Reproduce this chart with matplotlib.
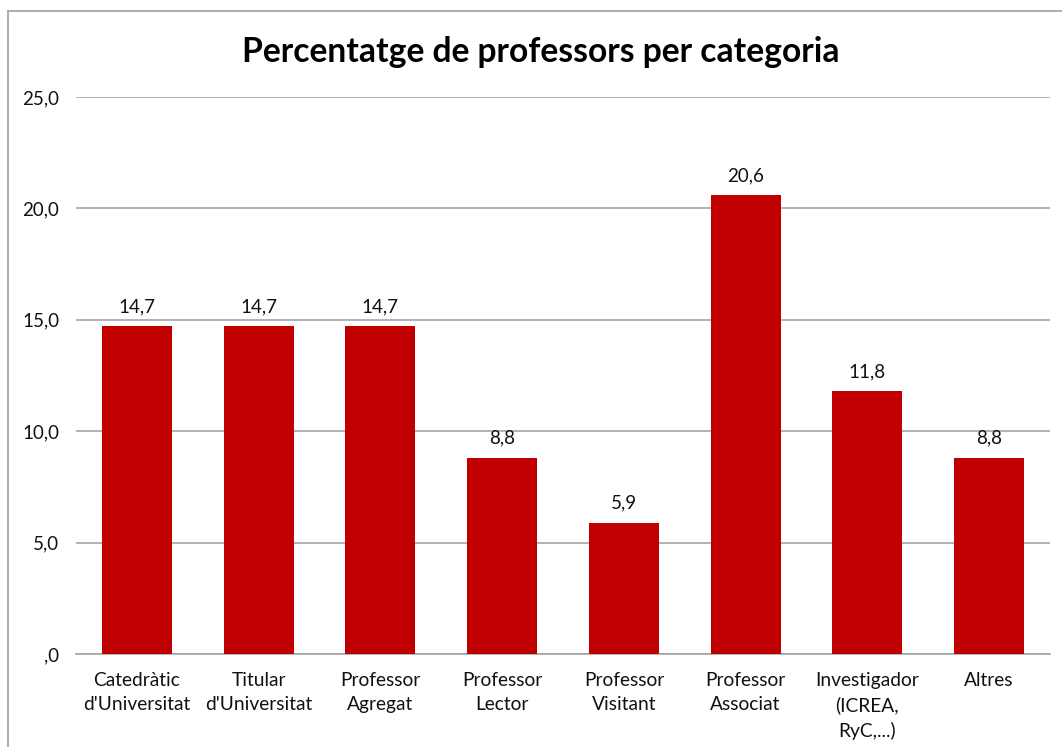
import matplotlib
matplotlib.use("Agg")
import matplotlib.pyplot as plt
from matplotlib.lines import Line2D

categories = ["Catedràtic\nd'Universitat", "Titular\nd'Universitat", "Professor\nAgregat",
              "Professor\nLector", "Professor\nVisitant", "Professor\nAssociat",
              "Investigador\n(ICREA,\nRyC,...)", "Altres"]
values = [14.7, 14.7, 14.7, 8.8, 5.9, 20.6, 11.8, 8.8]
yticks = [0, 5, 10, 15, 20, 25]
ytick_labels = [",0", "5,0", "10,0", "15,0", "20,0", "25,0"]
title = "Percentatge de professors per categoria"

plt.rcParams['font.family'] = ['Lato', 'DejaVu Sans']

fig = plt.figure(figsize=(10.62, 7.47), dpi=100)
ax = fig.add_axes([76/1062, 1-654/747, (1050-76)/1062, (654-97)/747])

x = list(range(len(values)))
bars = ax.bar(x, values, width=0.575, color="#C00000", zorder=3)
ax.set_xlim(-0.5, len(values)-0.5)
ax.set_ylim(0, 25)
ax.set_yticks(yticks)
ax.set_yticklabels(ytick_labels, fontsize=13.5, color="#111111")
ax.set_xticks(x)
ax.set_xticklabels(categories, fontsize=13.8, color="#111111", linespacing=1.5, va="top")
ax.tick_params(axis="both", length=0)
ax.tick_params(axis="x", pad=13)
ax.tick_params(axis="y", pad=12)
for s in ["top", "right", "left"]:
    ax.spines[s].set_visible(False)
ax.spines["bottom"].set_color("#A6A6A6")
ax.spines["bottom"].set_linewidth(1.2)
ax.yaxis.grid(True, color="#A6A6A6", linewidth=1.2, zorder=0)
ax.set_axisbelow(True)

for b, v in zip(bars, values):
    ax.annotate(f"{v:.1f}".replace(".", ","), (b.get_x()+b.get_width()/2, v),
                xytext=(0, 8), textcoords="offset points", ha="center", va="bottom",
                fontsize=13.5, color="#111111")

fig.text(0.509, 1-52/747, title, ha="center", va="center", fontsize=24.2, fontweight="bold", color="black")

# outer chart-area border (top and left visible)
fig.add_artist(Line2D([8/1062, 1.01], [1-11/747, 1-11/747], transform=fig.transFigure, color="#A0A0A0", linewidth=1.2))
fig.add_artist(Line2D([8/1062, 8/1062], [1-11/747, -0.01], transform=fig.transFigure, color="#A0A0A0", linewidth=1.2))

fig.savefig("out.png", dpi=100)
